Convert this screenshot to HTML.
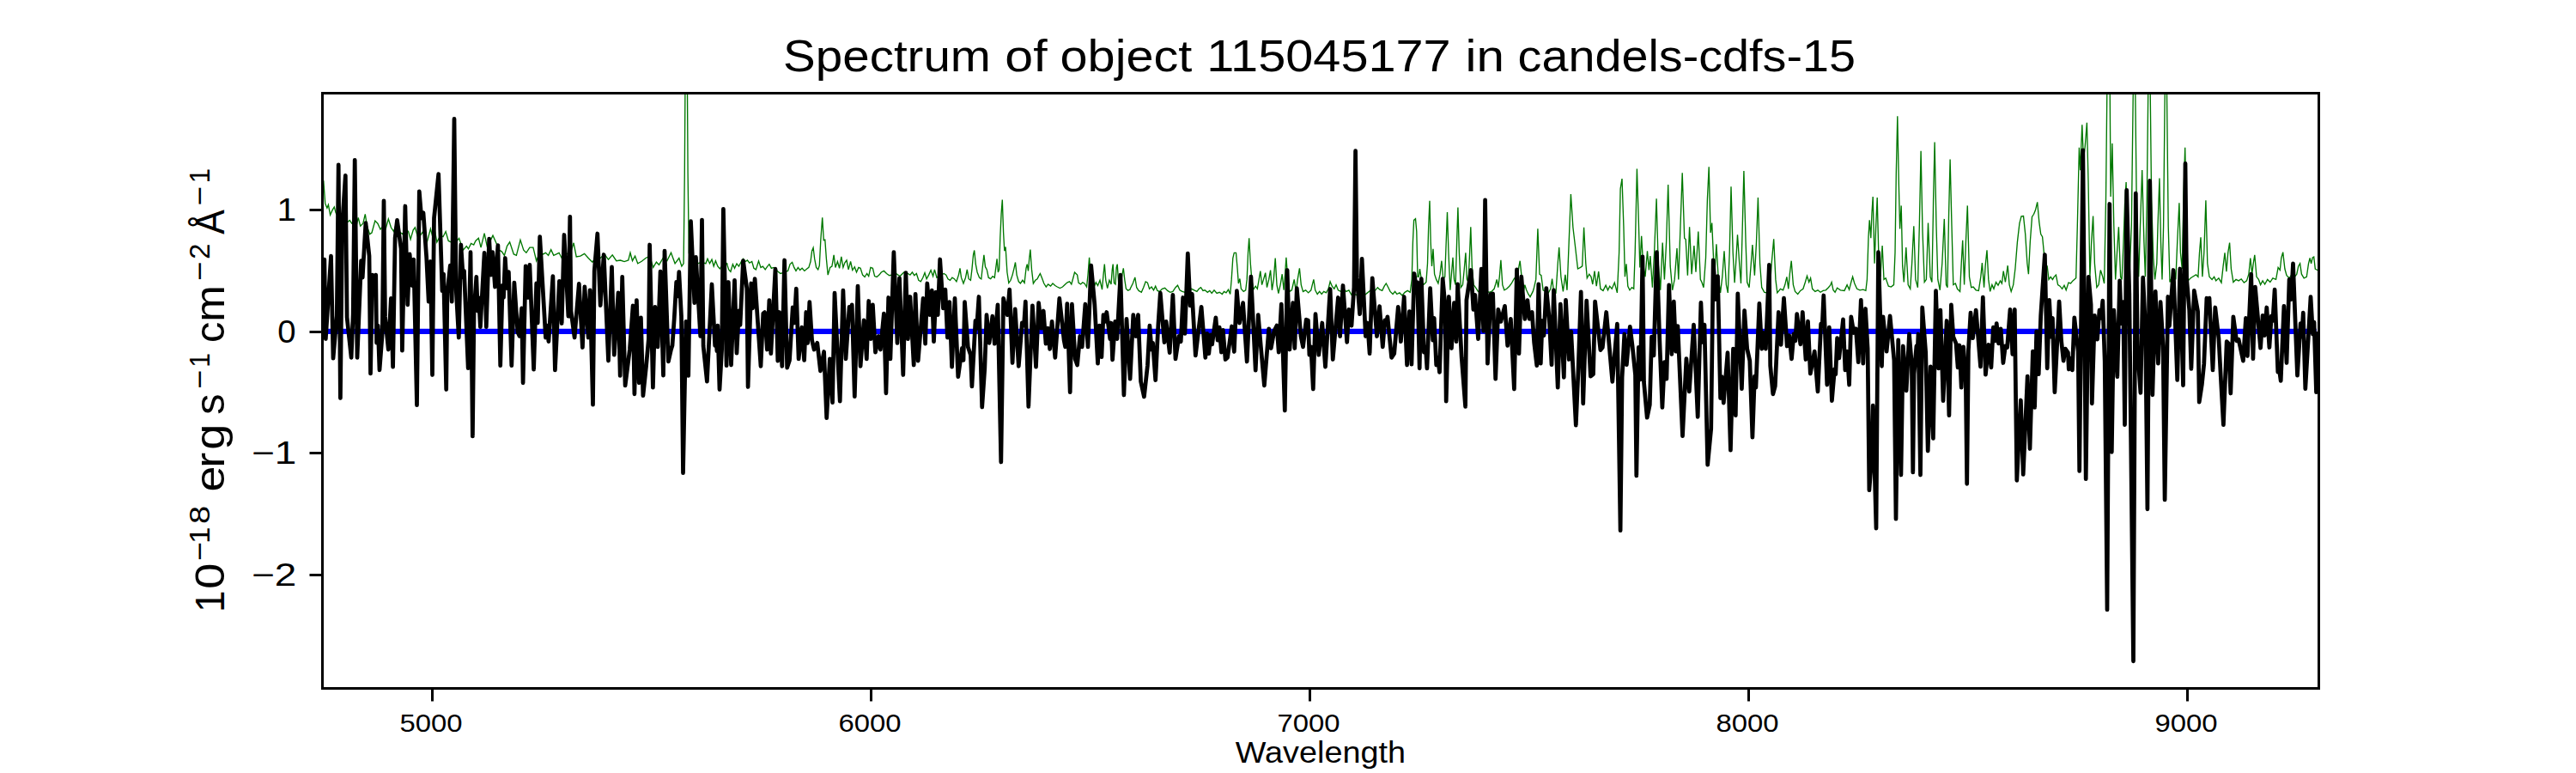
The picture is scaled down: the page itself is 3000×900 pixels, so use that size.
<!DOCTYPE html>
<html><head><meta charset="utf-8"><title>Spectrum</title>
<style>html,body{margin:0;padding:0;background:#fff}body{width:3000px;height:900px;overflow:hidden}svg{display:block}text{font-family:"Liberation Sans",sans-serif}</style>
</head><body>
<svg width="3000" height="900" viewBox="0 0 3000 900">
<rect x="0" y="0" width="3000" height="900" fill="#fff"/>
<defs><clipPath id="c"><rect x="375" y="108" width="2325" height="693"/></clipPath></defs>
<g clip-path="url(#c)" fill="none" stroke-linejoin="round" stroke-linecap="butt">
<path d="M375.0 208.9 L376.8 210.5 L378.7 236.9 L380.9 242.2 L382.4 238.4 L384.6 250.2 L387.1 244.6 L389.3 240.9 L391.1 247.8 L394.8 254.0 L399.5 257.1 L404.8 258.6 L407.3 256.4 L409.8 260.2 L415.0 263.3 L417.2 253.3 L419.7 263.3 L422.8 260.2 L425.3 249.3 L427.5 263.3 L430.6 272.6 L433.0 271.0 L436.8 257.1 L439.9 260.2 L443.0 267.0 L446.1 263.3 L449.2 266.4 L452.3 254.9 L455.4 264.8 L458.5 269.5 L461.6 260.2 L464.7 269.5 L468.8 272.6 L472.5 266.4 L475.6 269.5 L478.1 278.8 L481.2 267.9 L483.4 264.8 L486.5 275.7 L489.6 274.1 L492.7 269.5 L497.3 281.9 L501.4 266.4 L504.2 277.3 L506.6 269.5 L508.8 281.9 L512.9 274.1 L516.0 275.7 L519.1 269.5 L522.2 280.4 L525.3 281.9 L529.9 283.5 L534.6 277.3 L539.3 291.2 L543.3 286.6 L545.5 289.7 L548.6 283.5 L551.7 285.0 L553.9 280.4 L557.3 277.3 L560.1 288.1 L564.1 271.7 L567.2 286.6 L570.3 281.9 L574.0 274.1 L577.5 281.9 L581.2 291.2 L584.3 292.8 L587.4 297.4 L590.5 286.6 L593.6 281.9 L598.3 295.9 L601.4 297.4 L606.0 279.4 L609.8 291.2 L612.9 294.3 L616.9 288.1 L620.9 288.1 L624.7 303.7 L628.4 294.3 L632.4 295.9 L635.5 294.3 L638.6 297.4 L641.7 290.6 L644.8 297.4 L648.0 295.9 L651.1 294.3 L654.2 300.5 L658.8 294.3 L663.5 297.4 L668.1 282.8 L671.2 299.0 L675.9 298.1 L680.6 295.3 L685.2 300.5 L689.9 305.2 L694.5 299.0 L699.2 300.5 L703.9 295.9 L708.5 302.1 L713.2 296.8 L717.8 303.7 L722.5 303.0 L727.1 304.6 L731.8 303.0 L734.0 294.3 L736.5 303.7 L739.6 298.1 L742.7 306.8 L747.3 304.3 L752.0 300.5 L756.6 298.1 L760.7 311.4 L764.4 305.2 L767.5 308.3 L772.2 300.5 L776.8 303.7 L781.5 294.3 L786.1 306.8 L790.8 300.5 L793.9 309.9 L796.1 306.8 L797.3 201.2 L798.0 89.4 L800.4 89.4 L801.1 201.2 L802.3 294.3 L804.8 306.8 L807.9 308.3 L812.5 306.8 L817.2 305.2 L821.9 306.8 L824.0 301.2 L826.5 306.8 L829.0 302.1 L831.2 309.9 L833.4 303.7 L835.8 309.9 L838.3 313.0 L840.5 309.9 L843.6 306.8 L846.7 306.8 L846.2 306.1 L848.7 313.9 L850.9 316.3 L853.4 307.6 L855.5 312.3 L858.0 307.0 L860.5 310.1 L863.3 304.5 L865.5 301.4 L868.0 304.5 L870.4 303.0 L872.9 306.1 L875.7 304.5 L877.9 312.3 L880.4 313.9 L883.5 303.9 L886.0 311.4 L888.4 310.1 L891.2 313.9 L893.4 310.7 L895.9 307.6 L898.4 312.3 L900.9 311.4 L903.7 313.9 L906.1 316.3 L908.9 318.5 L912.0 317.6 L914.5 316.3 L917.6 315.4 L920.1 307.6 L922.6 305.5 L924.8 311.4 L927.0 315.4 L929.4 311.4 L931.6 314.5 L934.1 312.3 L936.9 315.4 L939.4 313.2 L941.9 311.4 L944.0 304.5 L945.6 292.1 L947.1 288.4 L948.7 301.4 L950.6 311.4 L952.7 313.9 L954.3 309.2 L955.8 279.7 L957.7 253.3 L959.3 279.7 L960.8 279.1 L962.4 301.4 L964.2 320.1 L966.7 311.4 L968.9 310.1 L971.1 296.8 L972.9 311.4 L975.4 304.5 L977.6 312.3 L979.8 298.9 L981.9 311.4 L983.8 306.1 L986.0 303.0 L988.1 313.9 L990.6 304.5 L992.8 314.5 L995.3 310.7 L997.5 317.0 L999.9 311.4 L1002.1 312.3 L1004.6 320.1 L1007.1 322.5 L1009.6 318.5 L1011.7 321.6 L1013.9 311.4 L1016.4 312.3 L1018.6 321.6 L1021.1 322.5 L1023.9 320.1 L1026.3 317.0 L1029.4 315.4 L1032.5 318.5 L1035.7 320.7 L1038.8 320.1 L1043.4 318.5 L1048.1 321.6 L1052.7 317.0 L1057.4 318.5 L1059.9 320.1 L1062.4 317.0 L1064.8 320.7 L1067.3 318.5 L1069.8 326.3 L1072.3 327.8 L1074.8 323.2 L1077.0 317.6 L1079.1 324.7 L1081.6 320.1 L1084.1 314.5 L1086.6 321.6 L1088.4 313.9 L1090.9 323.2 L1093.1 321.6 L1096.2 320.1 L1099.3 318.5 L1101.8 320.1 L1104.0 324.7 L1106.5 326.3 L1108.9 323.2 L1111.4 324.7 L1113.9 327.8 L1116.4 320.1 L1118.0 312.3 L1119.5 323.2 L1122.0 330.0 L1124.5 323.2 L1126.3 313.9 L1128.2 324.7 L1130.4 326.3 L1131.9 313.9 L1133.5 296.8 L1134.7 291.5 L1136.3 307.6 L1138.1 317.0 L1140.6 323.2 L1142.8 324.7 L1144.3 310.7 L1145.9 296.8 L1147.5 310.7 L1149.3 313.9 L1151.2 323.2 L1153.7 324.7 L1156.1 321.6 L1158.3 323.2 L1159.9 310.7 L1161.1 301.4 L1162.4 317.0 L1163.6 313.9 L1164.8 276.6 L1166.1 248.6 L1167.3 232.5 L1168.6 270.4 L1169.8 292.1 L1171.1 287.5 L1172.9 317.0 L1174.8 329.4 L1177.0 326.3 L1179.1 320.1 L1181.0 312.3 L1182.5 305.5 L1184.1 320.1 L1186.3 327.8 L1188.4 330.0 L1190.9 326.3 L1193.1 329.4 L1195.0 312.3 L1196.2 307.6 L1197.5 315.4 L1198.7 301.4 L1199.9 290.6 L1201.5 313.9 L1203.4 330.0 L1205.8 326.3 L1208.0 324.7 L1209.6 321.6 L1211.4 318.5 L1213.3 323.2 L1215.8 330.0 L1218.3 334.0 L1220.7 330.9 L1223.5 333.1 L1226.0 330.0 L1228.8 332.5 L1231.3 334.0 L1234.4 335.6 L1237.5 334.0 L1240.6 330.9 L1243.1 328.8 L1245.6 327.8 L1247.8 330.9 L1249.9 323.2 L1251.5 317.0 L1253.0 318.5 L1254.6 320.1 L1256.1 329.4 L1258.6 330.9 L1260.8 328.8 L1263.0 330.0 L1265.5 334.0 L1267.0 320.1 L1268.6 299.9 L1270.1 320.1 L1271.7 329.4 L1274.2 334.0 L1276.3 328.8 L1278.5 332.5 L1281.0 326.3 L1283.5 337.1 L1285.0 320.1 L1286.3 307.6 L1287.8 326.3 L1289.7 335.6 L1291.9 326.3 L1294.0 330.9 L1295.3 313.9 L1296.2 307.6 L1297.5 329.4 L1299.0 330.9 L1300.2 311.4 L1301.2 307.6 L1302.7 329.4 L1304.9 332.5 L1306.8 320.1 L1308.3 312.3 L1309.9 326.3 L1311.4 336.2 L1313.6 338.1 L1316.1 337.1 L1316.2 336.3 L1319.3 330.0 L1321.8 322.9 L1323.7 334.7 L1326.1 338.4 L1329.3 340.3 L1331.7 334.7 L1334.2 327.9 L1336.4 329.1 L1338.6 336.3 L1341.1 334.1 L1343.5 337.8 L1345.7 333.2 L1347.9 338.4 L1350.4 339.4 L1353.5 336.3 L1356.6 335.3 L1359.7 338.4 L1362.8 340.3 L1365.9 339.4 L1369.0 334.7 L1371.5 332.2 L1374.0 337.8 L1376.8 339.4 L1379.9 340.3 L1383.9 337.8 L1387.6 336.3 L1390.7 337.8 L1393.9 339.4 L1396.3 336.3 L1398.5 334.7 L1401.0 338.4 L1403.2 337.8 L1406.3 340.3 L1408.8 338.4 L1411.2 341.5 L1414.0 337.8 L1417.1 341.5 L1420.2 340.3 L1423.4 342.5 L1425.5 339.4 L1428.0 340.9 L1430.5 337.2 L1432.7 342.5 L1434.2 325.4 L1435.8 300.5 L1437.3 294.3 L1439.5 294.3 L1441.1 313.0 L1442.3 330.0 L1443.9 324.5 L1445.4 336.3 L1448.2 339.4 L1450.7 337.8 L1452.2 325.4 L1453.5 294.3 L1454.7 277.3 L1456.3 306.8 L1457.8 325.4 L1459.7 337.2 L1462.2 333.2 L1464.3 336.3 L1466.2 325.4 L1467.8 315.5 L1469.6 331.6 L1471.5 325.4 L1473.7 317.6 L1475.5 334.7 L1477.7 325.4 L1479.6 314.5 L1481.4 337.8 L1483.3 325.4 L1485.2 300.5 L1487.0 331.6 L1488.9 341.5 L1491.1 331.6 L1493.2 319.2 L1495.1 337.8 L1496.6 319.2 L1497.9 299.9 L1499.8 325.4 L1501.9 339.4 L1504.4 337.8 L1507.2 325.4 L1509.4 339.4 L1511.2 325.4 L1513.4 312.3 L1515.3 331.6 L1517.5 339.4 L1520.6 337.8 L1523.7 340.9 L1526.8 337.8 L1528.3 331.6 L1529.9 325.4 L1531.7 337.8 L1534.2 342.5 L1536.7 339.4 L1539.2 342.5 L1541.7 339.4 L1544.5 340.9 L1547.0 336.3 L1549.1 327.9 L1551.3 333.2 L1553.8 336.3 L1556.0 331.6 L1558.4 337.8 L1561.6 339.4 L1564.7 336.3 L1567.8 339.4 L1570.9 337.8 L1574.0 343.4 L1577.1 342.5 L1581.7 344.0 L1586.4 343.1 L1589.5 343.4 L1592.6 340.9 L1595.7 338.4 L1598.8 340.3 L1601.9 337.8 L1604.4 334.7 L1606.9 337.2 L1609.7 338.4 L1612.2 333.2 L1614.3 330.0 L1616.8 334.7 L1619.0 339.4 L1622.1 342.5 L1624.6 339.4 L1626.8 342.5 L1629.9 340.9 L1633.0 344.0 L1636.1 340.3 L1639.2 338.4 L1642.3 340.3 L1644.2 325.4 L1645.4 281.9 L1646.6 256.4 L1648.5 254.6 L1649.8 269.5 L1651.0 322.3 L1652.2 322.3 L1653.5 313.0 L1655.3 325.4 L1657.8 331.6 L1660.9 328.5 L1662.5 306.8 L1663.7 263.3 L1665.0 233.8 L1666.2 281.9 L1667.5 309.9 L1669.0 289.7 L1670.6 319.2 L1672.7 325.4 L1674.9 330.0 L1677.1 319.2 L1678.9 303.7 L1680.8 325.4 L1682.7 322.3 L1684.2 281.9 L1685.5 247.1 L1687.0 294.3 L1688.9 337.8 L1690.4 319.2 L1692.0 299.9 L1693.5 325.4 L1695.1 331.6 L1696.6 281.9 L1697.9 241.5 L1699.4 294.3 L1701.3 334.7 L1703.5 331.6 L1705.3 313.0 L1706.9 294.3 L1708.4 325.4 L1710.0 328.5 L1711.6 294.3 L1712.8 264.2 L1714.3 309.9 L1716.2 331.6 L1718.4 334.7 L1721.5 339.4 L1724.6 340.9 L1727.7 339.4 L1730.8 338.4 L1733.9 340.3 L1737.0 339.4 L1740.1 336.3 L1741.7 331.0 L1743.2 325.4 L1744.8 334.7 L1746.3 322.3 L1747.9 302.7 L1749.8 331.6 L1751.9 337.8 L1754.7 336.3 L1757.8 333.2 L1760.3 330.0 L1762.8 325.4 L1765.0 322.3 L1767.1 322.3 L1769.0 309.9 L1770.2 303.7 L1772.1 322.3 L1774.3 339.4 L1775.8 331.6 L1777.7 337.8 L1779.9 342.5 L1782.0 345.6 L1785.2 339.4 L1786.2 336.3 L1788.7 325.4 L1790.9 266.4 L1793.0 319.2 L1794.9 320.7 L1797.1 337.8 L1800.2 339.4 L1803.3 340.9 L1805.8 336.3 L1807.6 324.5 L1809.5 339.4 L1812.0 340.9 L1814.2 306.8 L1815.7 288.1 L1817.9 322.3 L1820.4 339.4 L1822.9 319.8 L1825.0 337.8 L1827.2 281.9 L1829.4 226.0 L1831.9 264.8 L1834.3 285.0 L1837.5 313.0 L1840.6 311.4 L1842.7 309.9 L1844.6 264.8 L1846.8 306.8 L1848.3 323.8 L1850.8 319.2 L1853.0 322.3 L1854.8 331.0 L1857.0 315.5 L1859.2 333.2 L1861.7 316.1 L1863.9 336.3 L1867.0 338.4 L1870.1 332.2 L1872.5 337.8 L1874.7 333.2 L1877.2 336.3 L1880.3 329.1 L1883.4 340.9 L1885.6 294.3 L1887.1 219.8 L1889.0 208.0 L1890.9 263.3 L1892.4 322.3 L1894.0 307.4 L1895.8 333.2 L1898.0 337.8 L1900.5 334.7 L1902.7 336.3 L1904.2 294.3 L1906.4 196.5 L1908.3 257.1 L1909.8 311.4 L1911.7 274.8 L1913.5 306.8 L1916.0 322.3 L1918.5 292.2 L1920.4 314.5 L1921.9 298.1 L1924.4 334.7 L1926.6 294.3 L1929.1 231.3 L1931.2 306.8 L1933.7 337.8 L1936.2 282.5 L1938.4 325.4 L1940.6 281.9 L1942.7 215.1 L1945.2 309.9 L1947.7 337.8 L1950.2 325.4 L1953.0 289.1 L1954.8 325.4 L1957.0 263.3 L1959.2 201.2 L1961.7 277.3 L1963.2 278.8 L1965.4 320.7 L1967.6 264.2 L1970.1 319.2 L1972.9 286.0 L1975.0 316.7 L1977.8 269.5 L1980.3 325.4 L1981.9 328.5 L1984.0 334.7 L1986.5 300.5 L1988.4 232.2 L1990.2 194.3 L1992.1 271.0 L1993.7 259.6 L1995.8 306.8 L1997.4 311.4 L1998.9 284.4 L2001.1 322.3 L2003.6 340.9 L2005.8 322.3 L2008.0 292.2 L2010.4 331.6 L2012.3 340.9 L2014.2 294.3 L2016.0 217.3 L2018.2 294.3 L2020.1 329.1 L2021.6 306.8 L2023.5 273.2 L2025.7 306.8 L2027.5 330.0 L2029.1 269.5 L2030.9 199.0 L2033.1 281.9 L2034.7 328.5 L2037.1 334.7 L2039.3 306.8 L2040.9 285.0 L2043.4 320.7 L2045.5 281.9 L2047.4 230.0 L2049.6 306.8 L2051.7 334.7 L2054.8 340.3 L2058.0 340.9 L2061.1 339.4 L2063.2 306.8 L2065.7 278.2 L2067.9 325.4 L2069.8 340.9 L2073.5 336.3 L2076.6 337.8 L2078.8 331.6 L2080.9 322.3 L2082.8 336.3 L2084.3 319.2 L2086.2 303.7 L2088.4 331.6 L2090.6 339.4 L2093.7 342.5 L2096.8 338.4 L2099.9 336.3 L2102.4 328.5 L2104.5 321.4 L2106.7 328.5 L2108.6 323.8 L2110.7 336.3 L2113.9 339.4 L2117.0 337.8 L2120.1 340.3 L2123.2 338.4 L2126.3 337.8 L2129.4 334.7 L2131.6 332.2 L2133.1 328.5 L2135.0 337.8 L2137.1 340.3 L2139.6 335.3 L2143.4 337.8 L2148.0 338.4 L2151.1 331.6 L2153.6 337.2 L2155.8 328.5 L2157.6 322.3 L2159.8 330.0 L2162.6 336.3 L2166.0 337.8 L2169.8 337.2 L2172.9 338.4 L2174.4 325.4 L2176.0 275.7 L2177.2 256.4 L2178.8 277.3 L2180.0 247.8 L2181.2 229.1 L2183.1 306.8 L2184.7 263.3 L2186.2 230.0 L2187.8 294.3 L2189.9 322.3 L2192.1 286.0 L2194.0 325.4 L2196.1 323.8 L2199.3 333.2 L2202.4 334.1 L2205.5 331.6 L2207.0 294.3 L2208.3 201.2 L2209.8 135.3 L2211.4 216.7 L2212.6 266.4 L2214.2 239.4 L2215.7 309.9 L2217.3 328.5 L2219.8 288.1 L2222.2 331.6 L2224.7 336.3 L2226.6 306.8 L2228.8 263.3 L2230.9 325.4 L2233.4 334.7 L2235.3 263.3 L2237.1 175.7 L2239.0 269.5 L2241.2 328.5 L2243.4 325.4 L2245.5 259.6 L2248.0 322.3 L2249.9 328.5 L2251.4 247.8 L2251.6 232.2 L2253.1 165.5 L2255.0 263.3 L2256.8 325.4 L2259.3 337.8 L2261.8 306.8 L2264.3 254.9 L2266.5 331.6 L2268.0 334.7 L2269.6 247.8 L2271.1 185.6 L2273.0 263.3 L2274.8 331.6 L2277.3 330.0 L2279.5 336.3 L2282.6 339.4 L2284.2 306.8 L2285.7 279.7 L2287.6 331.6 L2289.4 281.9 L2291.3 239.4 L2293.5 322.3 L2295.7 334.7 L2298.1 334.1 L2301.2 337.8 L2304.3 338.4 L2306.8 322.3 L2308.4 306.1 L2310.6 334.7 L2312.1 309.9 L2314.0 291.2 L2315.8 325.4 L2317.7 339.4 L2319.9 331.6 L2322.0 336.3 L2324.5 328.5 L2327.0 332.2 L2329.5 326.9 L2331.4 330.0 L2333.2 315.5 L2335.4 328.5 L2338.2 309.2 L2340.1 331.6 L2342.2 339.4 L2344.7 331.6 L2346.9 313.0 L2349.4 281.9 L2351.9 260.2 L2354.0 251.8 L2356.5 251.5 L2358.7 272.6 L2360.9 306.8 L2362.4 319.2 L2364.3 281.9 L2366.5 252.4 L2368.6 249.3 L2370.5 244.6 L2372.7 235.3 L2374.8 258.6 L2376.7 272.6 L2378.6 275.7 L2380.4 294.3 L2382.0 306.8 L2384.2 309.9 L2386.0 325.4 L2388.2 322.3 L2390.4 325.4 L2392.2 322.3 L2394.4 320.1 L2396.6 331.6 L2399.1 333.2 L2401.6 336.3 L2404.0 332.2 L2406.2 337.8 L2409.0 329.1 L2411.5 330.0 L2414.0 326.9 L2417.7 323.8 L2419.3 263.3 L2421.4 171.7 L2422.7 198.1 L2424.8 145.3 L2426.4 185.6 L2428.3 170.1 L2430.4 142.8 L2432.0 210.5 L2433.9 322.3 L2435.7 281.9 L2437.6 251.5 L2439.4 306.8 L2441.9 334.7 L2444.1 331.6 L2446.3 314.5 L2448.8 322.3 L2450.6 330.0 L2452.5 232.2 L2454.0 89.4 L2457.1 89.4 L2458.1 229.1 L2459.9 167.0 L2461.8 263.3 L2463.7 325.4 L2465.5 294.3 L2467.4 264.2 L2469.6 322.3 L2471.1 325.4 L2473.0 281.9 L2474.5 238.4 L2476.1 212.0 L2478.0 306.8 L2479.8 325.4 L2482.3 263.3 L2484.5 89.4 L2486.6 89.4 L2488.5 263.3 L2490.7 322.3 L2492.5 263.3 L2494.7 198.1 L2496.9 281.9 L2498.4 322.3 L2500.3 232.2 L2501.9 89.4 L2504.0 89.4 L2505.6 232.2 L2507.8 300.5 L2509.6 325.4 L2511.8 306.8 L2513.0 263.3 L2514.9 207.4 L2516.5 281.9 L2518.0 325.4 L2519.6 263.3 L2521.4 89.4 L2523.3 89.4 L2525.2 263.3 L2527.0 328.5 L2529.5 322.3 L2532.0 313.0 L2533.9 325.4 L2535.7 281.9 L2537.9 236.3 L2539.4 294.3 L2541.3 313.0 L2542.9 232.2 L2544.7 171.7 L2546.6 263.3 L2548.1 326.9 L2551.2 323.8 L2554.3 321.7 L2557.5 319.8 L2559.9 322.3 L2561.5 294.3 L2563.0 276.3 L2564.9 322.3 L2566.8 294.3 L2568.9 233.2 L2570.8 306.8 L2573.0 322.3 L2576.1 325.4 L2578.6 322.3 L2580.7 326.9 L2583.9 323.8 L2587.0 329.1 L2589.1 309.9 L2591.0 294.3 L2592.9 316.1 L2594.7 294.3 L2596.6 282.5 L2598.4 313.0 L2600.9 328.5 L2604.0 325.4 L2607.1 326.9 L2610.2 324.8 L2613.4 329.1 L2616.5 326.9 L2618.9 319.2 L2620.8 300.5 L2622.7 319.2 L2624.2 306.8 L2625.8 296.8 L2628.0 322.3 L2630.4 325.4 L2632.6 331.6 L2635.1 326.9 L2637.6 331.0 L2640.7 325.4 L2643.8 328.5 L2646.9 323.8 L2650.6 325.4 L2653.1 311.4 L2655.3 314.5 L2656.8 300.5 L2658.7 293.7 L2660.9 313.0 L2663.0 320.7 L2666.1 323.8 L2669.3 319.2 L2672.4 322.3 L2674.8 319.2 L2676.7 309.9 L2678.6 306.8 L2680.4 319.2 L2683.2 323.8 L2686.3 322.3 L2688.5 306.8 L2690.1 300.5 L2691.6 306.8 L2693.2 299.9 L2694.7 299.0 L2696.3 313.0 L2698.8 314.5 L2700.3 315.5" stroke="#007800" stroke-width="1.35" stroke-linejoin="miter"/>
<path d="M381.5 385.8 L2698 385.8" stroke="#0000ff" stroke-width="6.25"/>
<path d="M375.0 323.2 L377.8 302.1 L379.3 394.5 L385.5 298.1 L388.0 417.2 L392.3 367.6 L394.2 191.9 L396.4 463.5 L398.6 261.3 L402.3 204.3 L404.1 369.6 L409.1 416.3 L411.2 365.7 L413.2 186.3 L416.0 416.3 L420.6 303.7 L422.2 323.2 L425.9 259.6 L430.0 298.1 L431.5 434.9 L433.7 320.1 L435.5 335.6 L437.7 320.1 L438.6 399.2 L440.2 379.1 L442.0 430.9 L445.3 387.5 L447.0 233.8 L448.5 368.9 L452.3 407.0 L455.4 347.4 L457.6 427.1 L460.1 277.3 L462.5 256.4 L467.1 289.8 L468.4 408.2 L471.9 240.0 L474.7 354.8 L477.1 295.9 L480.2 332.5 L481.8 302.1 L485.5 471.6 L488.3 222.9 L490.8 254.0 L493.0 247.8 L496.7 299.9 L499.2 351.1 L501.4 304.5 L503.5 436.5 L505.5 254.1 L510.7 202.7 L515.0 338.7 L516.6 319.1 L519.7 453.5 L520.9 341.0 L524.3 309.2 L526.2 351.1 L529.0 138.4 L531.2 337.0 L534.3 393.0 L536.8 285.0 L539.3 323.2 L540.5 315.4 L545.2 428.7 L548.0 293.7 L550.4 507.9 L552.0 363.1 L554.8 322.3 L556.3 362.0 L557.6 346.5 L559.4 380.6 L564.1 294.3 L566.3 380.6 L569.7 278.2 L571.9 320.1 L573.7 293.7 L576.5 334.0 L579.9 285.6 L582.7 425.6 L585.2 332.5 L586.5 346.5 L588.3 300.5 L590.5 335.6 L592.4 316.7 L595.8 425.6 L598.9 329.1 L602.9 386.8 L605.1 391.4 L607.6 358.9 L609.1 445.8 L612.2 309.9 L615.3 346.5 L616.9 308.3 L621.6 430.2 L624.7 330.0 L626.2 375.9 L628.7 275.7 L635.5 393.0 L637.1 379.1 L638.9 397.6 L643.9 321.7 L646.4 430.9 L651.4 327.3 L654.2 376.5 L657.0 273.5 L661.9 368.1 L663.8 252.4 L665.0 362.1 L669.1 393.0 L674.3 330.4 L678.4 404.5 L680.9 333.8 L685.2 393.0 L687.1 337.8 L690.5 471.2 L692.2 315.8 L695.8 272.0 L699.2 355.7 L703.2 296.5 L708.5 420.0 L712.5 310.8 L715.3 413.2 L720.0 340.9 L722.2 437.4 L724.7 322.3 L728.1 448.9 L733.4 407.0 L737.1 355.8 L738.9 458.8 L741.4 349.6 L744.2 445.8 L746.4 369.8 L748.9 460.7 L752.6 425.7 L755.4 394.7 L756.6 285.0 L760.4 451.1 L762.9 357.3 L766.0 403.9 L769.1 316.1 L772.5 437.1 L774.0 292.2 L778.4 420.9 L781.5 407.0 L783.0 402.3 L785.2 371.3 L787.7 328.5 L789.3 344.9 L790.8 316.7 L793.5 368.2 L795.5 550.7 L798.9 374.4 L801.7 437.4 L804.5 257.7 L808.8 352.7 L810.4 299.3 L815.7 391.4 L817.5 256.1 L819.1 402.8 L823.4 444.2 L829.0 331.0 L832.7 402.3 L834.0 391.5 L834.9 408.5 L835.8 379.1 L838.0 453.5 L840.6 407.3 L842.4 243.4 L846.1 425.6 L848.3 328.5 L851.5 425.0 L855.5 326.3 L858.0 411.1 L860.5 362.0 L862.0 378.4 L865.5 303.6 L869.8 335.9 L871.1 450.5 L874.8 330.0 L876.6 358.9 L879.1 324.7 L886.0 426.3 L888.8 365.1 L890.6 363.5 L893.4 407.0 L895.9 349.6 L897.8 411.7 L903.0 313.2 L905.8 420.1 L907.7 363.5 L910.8 426.3 L913.6 303.0 L916.7 428.1 L919.5 419.4 L923.2 358.0 L925.1 376.0 L927.3 336.2 L930.1 417.9 L933.8 381.2 L936.6 419.4 L938.8 363.5 L940.6 399.3 L942.8 351.7 L945.6 396.1 L948.1 407.0 L951.8 399.3 L955.5 431.9 L959.6 409.5 L962.7 486.7 L966.4 417.9 L969.5 468.7 L972.0 341.2 L978.2 467.1 L981.9 338.1 L985.0 417.9 L989.1 357.3 L990.6 366.6 L992.2 354.8 L995.3 461.6 L999.0 333.1 L1002.1 426.3 L1006.1 372.9 L1009.3 417.9 L1011.7 350.5 L1014.2 394.6 L1016.4 354.8 L1019.5 410.1 L1023.2 391.5 L1025.4 407.0 L1029.4 365.1 L1031.9 457.8 L1034.7 346.5 L1036.9 417.9 L1040.9 293.7 L1045.0 399.3 L1047.5 323.8 L1051.8 436.5 L1054.9 317.6 L1057.4 394.6 L1059.9 345.5 L1064.2 425.0 L1066.1 342.4 L1069.2 420.1 L1075.1 347.4 L1077.6 400.2 L1079.8 330.0 L1082.9 366.6 L1085.3 338.1 L1087.5 397.7 L1090.0 340.2 L1092.2 366.6 L1094.7 302.0 L1098.4 358.9 L1100.9 337.1 L1103.4 393.0 L1105.8 351.7 L1108.6 427.2 L1112.0 347.4 L1115.8 438.7 L1120.4 405.5 L1122.0 419.4 L1123.5 351.7 L1127.3 403.9 L1130.4 413.2 L1131.9 449.9 L1136.0 373.5 L1137.5 382.2 L1140.0 345.5 L1143.7 474.0 L1146.8 428.8 L1149.0 366.6 L1152.1 399.3 L1155.8 368.2 L1158.3 400.2 L1162.0 354.8 L1165.8 538.0 L1168.6 347.4 L1173.2 366.6 L1175.7 337.1 L1179.1 422.5 L1182.2 359.8 L1186.3 426.3 L1190.3 376.0 L1192.5 379.1 L1194.3 351.1 L1197.8 473.4 L1202.4 355.8 L1206.5 427.2 L1209.6 352.7 L1212.7 382.2 L1215.2 362.0 L1218.0 400.2 L1220.4 382.2 L1222.6 406.4 L1225.1 374.4 L1228.8 416.3 L1233.8 347.4 L1239.1 396.1 L1240.6 403.9 L1242.8 353.6 L1246.2 456.7 L1248.4 354.2 L1252.1 417.9 L1254.6 425.0 L1257.7 391.5 L1260.2 403.9 L1263.9 354.2 L1267.0 403.9 L1270.7 309.2 L1274.8 354.2 L1278.5 423.2 L1280.4 379.1 L1282.9 415.7 L1285.0 366.6 L1286.9 374.4 L1288.8 363.5 L1292.8 394.6 L1294.0 376.0 L1295.6 418.8 L1298.7 374.4 L1300.9 394.6 L1304.9 320.1 L1308.9 460.0 L1312.0 371.3 L1316.1 441.2 L1319.8 366.6 L1322.7 391.5 L1325.5 366.6 L1328.6 444.3 L1332.4 461.9 L1336.4 425.7 L1338.9 379.1 L1341.1 407.0 L1342.6 399.3 L1345.7 442.7 L1348.8 379.1 L1351.3 341.2 L1356.0 398.6 L1358.1 374.4 L1362.2 410.7 L1365.9 343.4 L1369.0 417.9 L1373.0 391.5 L1375.2 397.7 L1377.7 346.5 L1379.9 388.4 L1383.3 295.2 L1386.1 355.8 L1388.3 342.4 L1392.3 413.9 L1399.1 357.3 L1403.8 416.3 L1405.7 388.4 L1407.8 411.7 L1410.0 389.9 L1411.6 400.8 L1415.9 369.8 L1418.1 396.1 L1420.2 381.2 L1422.4 410.1 L1424.3 384.3 L1427.1 418.5 L1429.6 416.3 L1434.5 380.0 L1437.3 409.5 L1440.4 338.7 L1443.5 376.0 L1447.6 352.7 L1452.2 421.0 L1456.9 322.2 L1462.2 431.2 L1465.3 366.6 L1468.4 403.9 L1472.4 448.9 L1477.7 382.8 L1480.2 405.5 L1483.9 385.3 L1487.0 379.1 L1489.2 410.1 L1492.3 354.2 L1496.3 478.0 L1499.1 314.5 L1501.9 407.0 L1505.7 352.7 L1507.8 405.5 L1510.3 335.6 L1515.0 391.5 L1517.5 403.9 L1521.2 372.2 L1523.4 372.9 L1524.9 413.2 L1526.8 403.9 L1529.3 453.0 L1532.0 365.7 L1535.8 413.2 L1539.8 376.0 L1543.5 427.2 L1549.1 336.5 L1552.2 418.5 L1558.4 346.5 L1560.6 391.5 L1564.0 332.5 L1568.7 398.3 L1570.9 360.4 L1574.0 379.1 L1576.9 334.3 L1578.6 175.7 L1580.3 323.9 L1583.6 365.7 L1586.1 301.4 L1590.4 391.5 L1592.6 376.0 L1595.1 411.7 L1598.2 323.8 L1603.5 391.5 L1606.6 356.7 L1610.3 403.9 L1612.8 372.9 L1614.3 377.5 L1615.9 368.8 L1620.6 416.3 L1623.7 411.7 L1628.3 357.3 L1631.4 397.7 L1635.2 345.5 L1638.6 425.0 L1641.4 362.6 L1643.9 424.1 L1647.0 318.5 L1649.1 332.5 L1650.7 328.8 L1653.2 428.8 L1655.3 324.7 L1658.4 410.1 L1660.3 403.9 L1661.9 428.8 L1665.6 335.6 L1668.7 396.1 L1670.2 370.4 L1672.7 425.0 L1674.6 416.3 L1676.5 433.4 L1680.2 324.7 L1683.0 356.1 L1684.2 467.1 L1687.3 345.5 L1690.4 405.5 L1693.5 352.7 L1696.0 397.7 L1697.6 330.9 L1702.2 416.3 L1706.6 473.4 L1707.9 349.4 L1713.1 314.5 L1715.9 360.4 L1717.8 343.4 L1721.5 394.6 L1725.2 313.2 L1727.7 385.3 L1729.6 232.8 L1732.4 423.2 L1736.1 342.4 L1737.6 354.2 L1738.6 341.8 L1741.7 441.2 L1744.8 360.4 L1747.9 374.4 L1752.5 356.4 L1755.7 402.4 L1759.4 371.3 L1763.4 453.0 L1766.5 313.9 L1769.0 411.7 L1771.8 322.2 L1775.8 371.3 L1778.9 349.6 L1781.1 371.3 L1784.2 363.5 L1786.7 399.3 L1789.8 425.7 L1791.8 330.9 L1794.3 423.2 L1796.1 373.5 L1798.0 390.6 L1800.8 335.6 L1804.2 370.4 L1807.0 424.7 L1809.5 337.8 L1814.2 451.1 L1817.3 354.2 L1821.3 439.3 L1823.5 349.3 L1827.2 418.5 L1829.7 385.9 L1835.3 495.2 L1838.1 429.4 L1841.2 339.9 L1843.7 469.8 L1847.7 350.2 L1852.4 438.1 L1855.5 435.6 L1857.6 351.1 L1863.9 407.6 L1866.3 404.5 L1870.7 363.5 L1877.8 444.3 L1883.4 377.2 L1887.1 617.6 L1889.1 439.3 L1891.8 389.0 L1894.3 424.7 L1898.3 380.3 L1901.1 403.0 L1904.5 436.2 L1905.8 553.9 L1908.3 404.5 L1910.4 441.8 L1912.9 298.9 L1914.5 445.0 L1918.2 486.2 L1921.3 471.3 L1923.5 392.1 L1926.0 413.9 L1929.4 293.7 L1932.8 396.8 L1935.9 474.4 L1938.4 421.6 L1940.9 441.2 L1943.7 331.9 L1946.8 412.3 L1949.3 351.1 L1951.7 409.2 L1953.9 379.7 L1959.5 507.6 L1963.9 417.6 L1967.3 455.8 L1972.5 378.1 L1977.2 485.3 L1980.9 352.4 L1982.8 398.3 L1985.0 378.1 L1988.7 541.2 L1992.7 499.3 L1995.2 303.0 L1998.0 348.6 L2000.5 321.6 L2003.6 463.5 L2005.2 438.7 L2007.3 469.1 L2012.0 410.7 L2015.4 524.1 L2018.5 406.1 L2021.3 483.7 L2023.8 341.8 L2028.4 452.7 L2031.6 361.7 L2034.7 406.1 L2037.8 420.1 L2040.9 509.2 L2043.4 438.1 L2044.9 451.1 L2048.9 353.3 L2051.7 406.1 L2053.9 387.5 L2056.4 406.1 L2060.4 308.3 L2061.7 425.7 L2064.8 458.9 L2067.3 449.6 L2071.3 363.5 L2074.1 401.4 L2077.5 347.1 L2081.2 403.0 L2083.7 390.6 L2086.5 417.9 L2089.0 389.0 L2090.9 396.8 L2092.7 365.7 L2096.8 400.8 L2099.3 363.5 L2103.0 418.5 L2105.5 374.1 L2108.3 435.0 L2113.2 409.2 L2117.0 455.8 L2120.7 377.2 L2122.2 379.7 L2123.8 344.0 L2127.8 448.0 L2130.3 381.2 L2133.4 466.6 L2136.5 430.0 L2137.8 435.6 L2139.6 393.7 L2141.8 417.0 L2146.5 371.9 L2148.9 430.9 L2151.1 409.2 L2153.6 448.0 L2155.8 368.8 L2158.9 387.5 L2161.4 382.8 L2164.2 421.6 L2167.3 349.3 L2169.8 423.2 L2172.5 359.5 L2175.1 406.0 L2176.9 570.7 L2180.0 529.7 L2181.2 472.2 L2185.0 615.1 L2187.5 293.7 L2191.5 426.3 L2193.0 368.8 L2197.1 409.2 L2201.1 367.9 L2205.9 419.9 L2208.0 604.2 L2210.7 395.8 L2213.9 553.0 L2216.3 403.0 L2220.1 454.8 L2223.5 389.0 L2226.4 424.4 L2227.8 549.9 L2229.1 435.3 L2231.9 403.0 L2233.1 410.7 L2234.0 389.0 L2236.5 553.0 L2238.7 358.0 L2242.7 410.7 L2245.2 525.0 L2248.3 426.9 L2251.4 510.4 L2254.5 338.7 L2257.6 428.8 L2259.8 361.1 L2263.0 466.6 L2267.1 373.5 L2269.9 483.7 L2272.4 354.8 L2274.8 392.1 L2278.0 399.9 L2280.1 427.8 L2282.0 402.0 L2284.2 451.1 L2286.6 403.9 L2289.3 439.0 L2290.7 563.3 L2292.4 408.0 L2295.0 364.2 L2297.5 393.7 L2301.2 361.1 L2306.5 426.9 L2309.3 346.1 L2312.4 436.2 L2315.8 401.4 L2318.9 427.8 L2321.4 381.2 L2323.3 396.8 L2325.2 376.6 L2327.6 399.9 L2330.1 382.8 L2332.9 422.5 L2335.4 403.0 L2337.6 404.5 L2341.0 360.4 L2343.8 412.3 L2346.3 360.4 L2348.8 559.3 L2353.4 466.0 L2356.2 552.4 L2361.2 438.1 L2364.0 522.5 L2367.4 409.2 L2369.6 474.4 L2371.7 385.9 L2374.2 435.6 L2376.7 367.3 L2381.4 296.5 L2384.2 428.8 L2386.6 349.3 L2388.8 392.1 L2390.4 370.4 L2392.9 456.7 L2398.1 351.1 L2400.6 396.8 L2403.1 420.1 L2405.3 406.1 L2408.4 410.7 L2409.3 430.0 L2410.9 417.0 L2413.4 430.9 L2415.8 369.8 L2420.2 409.1 L2421.7 548.4 L2425.8 174.8 L2429.2 557.7 L2432.3 322.3 L2435.1 354.7 L2436.3 469.8 L2439.4 367.3 L2442.5 395.2 L2445.0 361.1 L2446.9 370.4 L2448.8 350.2 L2451.2 420.1 L2454.0 709.9 L2456.8 237.5 L2459.3 526.3 L2461.8 361.1 L2465.8 438.7 L2468.6 326.9 L2470.5 376.6 L2472.7 351.7 L2474.5 494.6 L2476.7 221.4 L2479.8 342.0 L2484.5 769.8 L2487.3 225.1 L2489.3 406.2 L2492.9 457.3 L2495.7 323.2 L2498.6 382.5 L2500.9 592.8 L2503.7 210.5 L2506.8 459.8 L2510.2 339.4 L2513.4 423.2 L2516.1 351.7 L2519.1 402.4 L2521.1 581.9 L2524.8 345.5 L2526.4 379.7 L2531.1 314.5 L2535.7 442.4 L2538.8 313.0 L2542.5 448.6 L2545.0 190.3 L2546.5 323.5 L2549.7 361.1 L2551.9 429.4 L2555.3 338.4 L2559.6 362.6 L2561.2 468.2 L2564.3 448.0 L2566.8 423.2 L2569.9 347.1 L2571.4 351.7 L2573.0 347.1 L2577.0 430.9 L2579.8 358.0 L2583.9 393.7 L2586.3 438.7 L2589.4 494.6 L2593.2 397.7 L2595.3 399.9 L2597.8 458.0 L2600.9 368.8 L2604.7 396.8 L2607.1 395.2 L2612.4 420.1 L2615.5 370.4 L2617.4 414.5 L2621.7 319.2 L2623.9 417.6 L2626.4 334.1 L2632.6 405.2 L2635.1 367.3 L2637.3 390.6 L2639.8 358.0 L2642.9 404.5 L2645.3 367.9 L2646.9 373.5 L2649.1 337.2 L2652.8 433.1 L2654.3 429.4 L2656.2 443.4 L2659.9 356.4 L2663.0 422.5 L2666.1 325.4 L2668.3 348.6 L2670.5 306.8 L2675.5 437.1 L2679.2 376.6 L2680.7 392.1 L2682.3 364.2 L2684.8 452.7 L2691.0 345.6 L2693.5 389.0 L2695.0 375.0 L2697.5 456.7 L2700.0 385.9" stroke="#000" stroke-width="4.75" stroke-linecap="butt"/>
</g>
<rect x="375.5" y="108.5" width="2325" height="693" fill="none" stroke="#000" stroke-width="3"/>
<path d="M503.5 801.5 v15 M1014.5 801.5 v15 M1525.5 801.5 v15 M2036.5 801.5 v15 M2547.5 801.5 v15 M375.5 244.5 h-15 M375.5 386.5 h-15 M375.5 527.5 h-15 M375.5 669.5 h-15" stroke="#000" stroke-width="3" fill="none"/>
<g font-family="Liberation Sans, sans-serif" fill="#000">
<text x="465.4" y="852.0" font-size="29.60" text-anchor="start" textLength="73.1" lengthAdjust="spacingAndGlyphs" >5000</text>
<text x="976.4" y="852.0" font-size="29.60" text-anchor="start" textLength="73.1" lengthAdjust="spacingAndGlyphs" >6000</text>
<text x="1487.4" y="852.0" font-size="29.60" text-anchor="start" textLength="73.1" lengthAdjust="spacingAndGlyphs" >7000</text>
<text x="1998.4" y="852.0" font-size="29.60" text-anchor="start" textLength="73.1" lengthAdjust="spacingAndGlyphs" >8000</text>
<text x="2509.4" y="852.0" font-size="29.60" text-anchor="start" textLength="73.1" lengthAdjust="spacingAndGlyphs" >9000</text>
<text x="322.6" y="257.1" font-size="36.60" text-anchor="start" textLength="22.6" lengthAdjust="spacingAndGlyphs" >1</text>
<text x="323.3" y="398.7" font-size="36.60" text-anchor="start" textLength="21.3" lengthAdjust="spacingAndGlyphs" >0</text>
<text x="292.9" y="540.3" font-size="36.60" text-anchor="start" textLength="52.3" lengthAdjust="spacingAndGlyphs" >−1</text>
<text x="292.9" y="681.9" font-size="36.60" text-anchor="start" textLength="52.3" lengthAdjust="spacingAndGlyphs" >−2</text>
<text x="1438.8" y="888.0" font-size="34.60" text-anchor="start" textLength="198.2" lengthAdjust="spacingAndGlyphs" >Wavelength</text>
<text x="912.1" y="83.0" font-size="51.40" text-anchor="start" textLength="241.8" lengthAdjust="spacingAndGlyphs" >Spectrum</text>
<text x="1170.3" y="83.0" font-size="51.40" text-anchor="start" textLength="49.3" lengthAdjust="spacingAndGlyphs" >of</text>
<text x="1234.5" y="83.0" font-size="51.40" text-anchor="start" textLength="153.9" lengthAdjust="spacingAndGlyphs" >object</text>
<text x="1405.3" y="83.0" font-size="51.40" text-anchor="start" textLength="284.4" lengthAdjust="spacingAndGlyphs" >115045177</text>
<text x="1706.6" y="83.0" font-size="51.40" text-anchor="start" textLength="45.4" lengthAdjust="spacingAndGlyphs" >in</text>
<text x="1767.6" y="83.0" font-size="51.40" text-anchor="start" textLength="393.4" lengthAdjust="spacingAndGlyphs" >candels-cdfs-15</text>
<text transform="translate(260.8 713.0) rotate(-90)" font-size="48.40" textLength="25.49" lengthAdjust="spacingAndGlyphs">1</text>
<text transform="translate(260.8 685.7) rotate(-90)" font-size="48.40" textLength="30.08" lengthAdjust="spacingAndGlyphs">0</text>
<text transform="translate(243.8 653.1) rotate(-90)" font-size="33.90" textLength="22.11" lengthAdjust="spacingAndGlyphs">−</text>
<text transform="translate(243.8 633.1) rotate(-90)" font-size="33.90" textLength="19.58" lengthAdjust="spacingAndGlyphs">1</text>
<text transform="translate(243.8 610.0) rotate(-90)" font-size="33.90" textLength="21.06" lengthAdjust="spacingAndGlyphs">8</text>
<text transform="translate(260.8 572.6) rotate(-90)" font-size="48.40" textLength="29.96" lengthAdjust="spacingAndGlyphs">e</text>
<text transform="translate(260.8 544.8) rotate(-90)" font-size="48.40" textLength="17.99" lengthAdjust="spacingAndGlyphs">r</text>
<text transform="translate(260.8 523.8) rotate(-90)" font-size="48.40" textLength="30.04" lengthAdjust="spacingAndGlyphs">g</text>
<text transform="translate(260.8 482.8) rotate(-90)" font-size="48.40" textLength="24.31" lengthAdjust="spacingAndGlyphs">s</text>
<text transform="translate(243.8 452.8) rotate(-90)" font-size="33.90" textLength="22.11" lengthAdjust="spacingAndGlyphs">−</text>
<text transform="translate(243.8 427.8) rotate(-90)" font-size="33.90" textLength="16.69" lengthAdjust="spacingAndGlyphs">1</text>
<text transform="translate(260.8 398.9) rotate(-90)" font-size="48.40" textLength="24.31" lengthAdjust="spacingAndGlyphs">c</text>
<text transform="translate(260.8 374.8) rotate(-90)" font-size="48.40" textLength="42.67" lengthAdjust="spacingAndGlyphs">m</text>
<text transform="translate(243.8 326.9) rotate(-90)" font-size="33.90" textLength="22.59" lengthAdjust="spacingAndGlyphs">−</text>
<text transform="translate(243.8 302.1) rotate(-90)" font-size="33.90" textLength="18.53" lengthAdjust="spacingAndGlyphs">2</text>
<text transform="translate(260.8 272.8) rotate(-90)" font-size="48.40" textLength="28.60" lengthAdjust="spacingAndGlyphs">Å</text>
<text transform="translate(243.8 239.5) rotate(-90)" font-size="33.90" textLength="22.71" lengthAdjust="spacingAndGlyphs">−</text>
<text transform="translate(243.8 213.3) rotate(-90)" font-size="33.90" textLength="17.30" lengthAdjust="spacingAndGlyphs">1</text>
</g>
</svg>
</body></html>
